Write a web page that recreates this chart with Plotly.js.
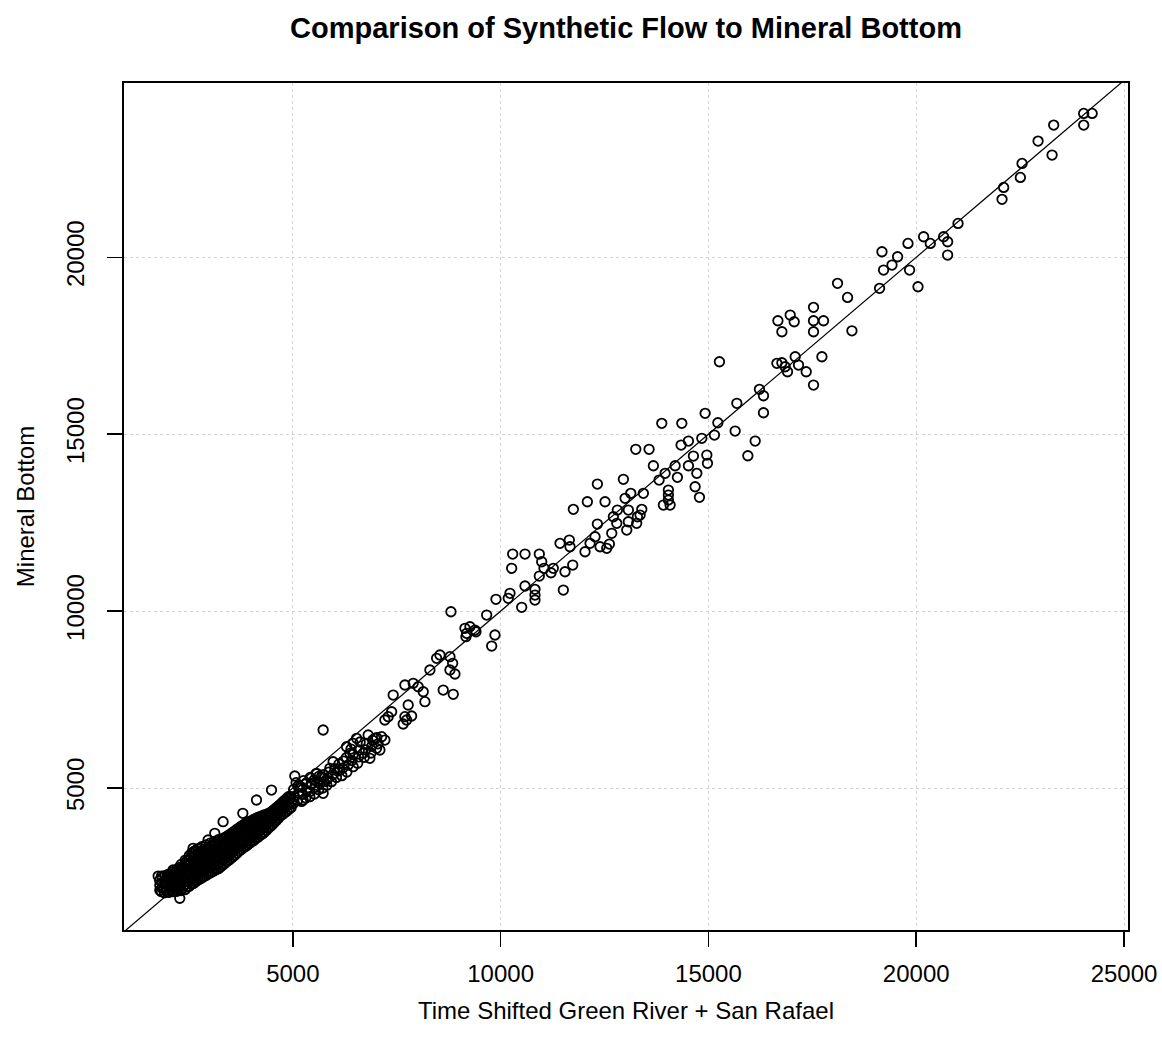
<!DOCTYPE html>
<html><head><meta charset="utf-8">
<script src="https://cdn.plot.ly/plotly-3.0.1.min.js"></script>
<style>html,body{margin:0;padding:0;background:#fff}#chart{width:1162px;height:1047px}</style>
</head><body><div id="chart"></div>
<script>
const chartTitle = 'Comparison of Synthetic Flow to Mineral Bottom';
const xTitle = 'Time Shifted Green River + San Rafael';
const yTitle = 'Mineral Bottom';
const xTickVals = [5000, 10000, 15000, 20000, 25000];
const yTickVals = [5000, 10000, 15000, 20000];
const ablineIntercept = 0;
const ablineSlope = 1;
const xRange = [938, 25096];
const yRange = [987, 24926];

// dense cluster of low flows (x = Green River + San Rafael, y = Mineral Bottom)
const lowFlowPairs = [
[1760,2510],[1840,2510],[1920,2520],[2000,2560],[1840,2070],[2280,1885],[2118,2683],[2600,3296],[2961,3530],[3122,3720],[3322,4048],[3797,4285],[4126,4661],[4487,4943],[4285,3720],
[1800,2110],[1800,2250],[1795,2390],
[1860,2170],[1865,2330],[1860,2460],
[1910,2040],[1905,2200],[1912,2350],
[1960,2120],[1955,2280],[1962,2430],
[2010,2050],[2015,2210],[2008,2360],[2012,2500],
[2060,2130],[2055,2290],[2065,2440],[2060,2570],
[2110,2070],[2105,2220],[2115,2370],[2110,2520],[2108,2635],
[2160,2140],[2165,2300],[2155,2450],[2160,2600],
[2210,2080],[2215,2240],[2205,2390],[2212,2540],[2210,2690],
[2260,2160],[2255,2310],[2265,2460],[2258,2610],[2262,2750],
[2310,2100],[2305,2250],[2315,2400],[2310,2550],[2308,2700],[2312,2840],
[2360,2180],[2365,2330],[2355,2480],[2362,2630],[2358,2780],
[2410,2130],[2405,2280],[2415,2430],[2410,2580],[2408,2730],[2412,2880],[2410,2960],
[2460,2210],[2465,2360],[2455,2510],[2462,2660],[2458,2810],[2460,2950],
[2510,2220],[2505,2370],[2515,2520],[2510,2670],[2508,2820],[2512,2960],[2510,3090],
[2560,2290],[2565,2440],[2555,2590],[2562,2740],[2558,2890],[2560,3040],[2565,3160],
[2610,2300],[2605,2450],[2615,2600],[2610,2750],[2608,2900],[2612,3050],[2610,3200],
[2660,2350],[2665,2500],[2655,2650],[2662,2800],[2658,2950],[2660,3100],[2665,3240],
[2710,2390],[2705,2540],[2715,2690],[2710,2840],[2708,2990],[2712,3140],[2710,3280],
[2760,2430],[2765,2580],[2755,2730],[2762,2880],[2758,3030],[2760,3180],[2765,3300],
[2810,2460],[2805,2610],[2815,2760],[2810,2910],[2808,3060],[2812,3210],[2810,3340],
[2860,2500],[2865,2650],[2855,2800],[2862,2950],[2858,3100],[2860,3250],
[2910,2530],[2905,2680],[2915,2830],[2910,2980],[2908,3130],[2912,3280],[2910,3390],
[2960,2570],[2965,2720],[2955,2870],[2962,3020],[2958,3170],[2960,3320],
[3010,2600],[3005,2750],[3015,2900],[3010,3050],[3008,3200],[3012,3350],[3010,3440],
[3060,2630],[3065,2780],[3055,2930],[3062,3080],[3058,3230],[3060,3380],
[3110,2660],[3105,2810],[3115,2960],[3110,3110],[3108,3260],[3112,3410],[3110,3490],
[3160,2700],[3165,2850],[3155,3000],[3162,3150],[3158,3300],[3160,3450],
[3210,2720],[3205,2870],[3215,3020],[3210,3170],[3208,3320],[3212,3470],[3210,3540],
[3260,2770],[3265,2920],[3255,3070],[3262,3220],[3258,3370],[3260,3520],
[3310,2820],[3305,2970],[3315,3120],[3310,3270],[3308,3420],[3312,3570],
[3360,2870],[3365,3020],[3355,3170],[3362,3320],[3358,3470],[3360,3600],
[3410,2920],[3405,3070],[3415,3220],[3410,3370],[3408,3520],[3412,3630],
[3460,2960],[3465,3110],[3455,3260],[3462,3410],[3458,3560],[3460,3670],
[3510,3010],[3505,3160],[3515,3310],[3510,3460],[3508,3610],[3512,3710],
[3560,3060],[3565,3210],[3555,3360],[3562,3510],[3558,3660],[3560,3750],
[3610,3110],[3605,3260],[3615,3410],[3610,3560],[3608,3710],[3612,3790],
[3660,3160],[3665,3310],[3655,3460],[3662,3610],[3658,3760],[3660,3840],
[3710,3220],[3705,3370],[3715,3520],[3710,3670],[3708,3820],[3712,3880],
[3760,3260],[3765,3410],[3755,3560],[3762,3710],[3758,3860],[3760,3920],
[3810,3310],[3805,3460],[3815,3610],[3810,3760],[3808,3910],[3812,3960],
[3860,3350],[3865,3500],[3855,3650],[3862,3800],[3858,3950],[3860,4000],
[3910,3390],[3905,3540],[3915,3690],[3910,3840],[3908,3990],[3912,4040],
[3960,3440],[3965,3590],[3955,3740],[3962,3890],[3958,4050],
[4010,3480],[4005,3630],[4015,3780],[4010,3930],[4008,4080],
[4060,3520],[4065,3670],[4055,3820],[4062,3970],[4058,4110],
[4110,3570],[4105,3720],[4115,3870],[4110,4020],[4108,4140],
[4160,3610],[4165,3760],[4155,3910],[4162,4060],[4158,4160],
[4210,3660],[4205,3810],[4215,3960],[4210,4110],[4208,4190],
[4260,3700],[4265,3850],[4255,4000],[4262,4150],[4258,4210],
[4310,3750],[4305,3900],[4315,4050],[4310,4200],[4308,4240],
[4360,3800],[4365,3950],[4355,4100],[4362,4250],
[4410,3860],[4405,4010],[4415,4160],[4410,4280],
[4460,3910],[4465,4060],[4455,4210],[4462,4310],
[4510,3970],[4505,4120],[4515,4270],[4510,4350],
[4560,4030],[4565,4180],[4555,4330],[4562,4400],
[4610,4090],[4605,4240],[4615,4390],[4610,4450],
[4660,4150],[4665,4300],[4655,4450],[4662,4500],
[4710,4220],[4705,4370],[4715,4520],[4710,4550],
[4760,4260],[4765,4410],[4755,4560],[4762,4610],
[4810,4310],[4805,4460],[4815,4610],[4810,4660],
[4860,4350],[4865,4500],[4855,4650],[4862,4720],
[4910,4400],[4905,4550],[4915,4700],[4910,4760],
[4960,4450],[4965,4600],[4955,4750]
];

// medium flows, 5000 - 9000
const midFlowPairs = [
[6813,6498],[6975,6405],[7136,6450],[7215,6356],[7016,6122],[7095,6074],[6534,6405],[6452,6263],[6293,6167],[6373,5981],[6693,5981],[6854,5839],[6452,5602],[5970,5743],[5891,5557],[6132,5509],[5048,5339],[5571,5415],[5691,5319],[5811,5226],[5450,5133],[5409,4754],[5730,4850],[5169,5037],[5248,4661],[5730,6639],
[5010,4560],[5040,4760],[5020,4960],[5080,5150],
[5110,4650],[5140,4850],[5120,5050],
[5210,4620],[5240,4820],[5220,5020],[5260,5210],
[5310,4720],[5340,4920],[5320,5120],
[5410,4900],[5440,5100],[5420,5300],
[5520,4830],[5540,5020],[5510,5220],[5560,5400],
[5620,4950],[5650,5130],[5630,5330],
[5720,5000],[5750,5180],[5740,5380],
[5820,5080],[5850,5280],[5870,5450],
[5930,5180],[5960,5380],[6010,5550],
[6050,5300],[6080,5480],[6110,5680],
[6180,5350],[6200,5560],[6220,5760],
[6300,5450],[6330,5650],[6290,5860],
[6420,5780],[6450,5950],[6400,6100],
[6560,5700],[6580,5880],[6600,6080],[6620,6300],
[6720,5870],[6750,6080],[6770,6260],
[6880,5990],[6900,6180],[6920,6350],
[7050,6250],[7020,6420],
[8619,7769],[8860,7648],[7697,7911],[7897,7959],[8017,7863],[8138,7721],[8179,7439],[7415,7628],[7776,7346],[7858,7035],[7738,6922],[7656,6809],[7377,7156],[7215,6922],[7295,7015],[7697,7015],
[8540,8759],[8460,8665],[8781,8711],[8846,8524],[8299,8335],[8781,8335],[8901,8222]
];

// high flows, above 9000
const highFlowPairs = [
[8805,9982],[9664,9889],[9864,9324],[9785,9013],[9142,9513],[9262,9558],[9383,9465],[9183,9372],[9407,9417],[9166,9276],
[11429,11915],[11670,11819],[10290,11613],[10587,11613],[10931,11613],[10989,11395],[10266,11209],[11044,11209],[11268,11209],[11735,11302],[11550,11113],[10931,10991],[11213,11084],[10587,10709],[10827,10615],[10827,10454],[10827,10313],[11509,10595],[10225,10502],[10184,10361],[9888,10333],[10507,10107],
[14921,15589],[13878,15306],[14360,15306],[15227,15323],[15643,15089],[16125,14806],[15949,14391],[15145,14976],[14841,14883],[14519,14806],[14343,14693],[13252,14572],[13572,14572],[14639,14382],[14962,14411],[14977,14176],[14519,14108],[14199,14108],[13676,14108],[14721,13893],[13958,13893],[14254,13780],[13813,13704],[12954,13724],[12328,13591],[14680,13515],[14784,13215],[14037,13421],[14037,13280],[14037,13139],[13917,12998],[14078,12998],[13435,13328],[13132,13328],[12995,13187],[12513,13091],[12087,13091],[11750,12876],[12809,12856],[13074,12856],[13397,12876],[12713,12667],[13291,12667],[13074,12526],[12795,12480],[12328,12461],[12674,12198],[13035,12291],[12272,12102],[11653,12008],[12152,11915],[12393,11819],[12617,11895],[12031,11678],[12554,11774],[13356,12715],[13274,12480],
[18107,19263],[18348,18867],[17529,18585],[16968,18367],[16672,18206],[17064,18178],[17529,18206],[17770,18206],[16768,17895],[17529,17895],[18453,17923],[17731,17189],[17088,17189],[16648,17002],[16768,17019],[16847,16906],[17168,16954],[17353,16765],[16903,16765],[17529,16389],[16228,16267],[16325,16086],[15684,15872],[16325,15606],[15265,17047],
[24030,24067],[24233,24067],[24030,23736],[23308,23736],[22932,23284],[23269,22889],[22547,22654],[22506,22258],[22104,21976],[22065,21637],[21006,20958],[20659,20580],[20756,20439],[20756,20063],[20178,20580],[20339,20393],[19802,20393],[19176,20156],[19552,20015],[19417,19780],[19214,19639],[19840,19639],[19118,19122],[20043,19167]
];

const allPairs = lowFlowPairs.concat(midFlowPairs, highFlowPairs);
const flowX = allPairs.map(p => p[0]);
const mineralY = allPairs.map(p => p[1]);

const pointsTrace = {
  x: flowX, y: mineralY, type: 'scatter', mode: 'markers',
  marker: {symbol: 'circle-open', size: 9.5, color: '#000', line: {width: 1.8, color: '#000'}},
  showlegend: false, hoverinfo: 'x+y'
};
const refLine = {
  x: [xRange[0], xRange[1]],
  y: [ablineIntercept + ablineSlope * xRange[0], ablineIntercept + ablineSlope * xRange[1]],
  type: 'scatter', mode: 'lines', line: {color: '#000', width: 1.2},
  showlegend: false, hoverinfo: 'skip'
};

const fontFam = '"Liberation Sans", Arial, sans-serif';
const axisCommon = {
  ticks: 'outside', ticklen: 15, tickwidth: 1.5, tickcolor: '#000',
  showline: true, linecolor: '#000', linewidth: 2, mirror: true,
  showgrid: true, gridcolor: '#d3d3d3', griddash: 'dot', gridwidth: 1,
  zeroline: false, automargin: false,
  tickfont: {family: fontFam, size: 24, color: '#000'}
};

const layout = {
  width: 1162, height: 1047,
  margin: {l: 124, r: 34, t: 83, b: 117, pad: 0},
  paper_bgcolor: '#fff', plot_bgcolor: '#fff',
  font: {family: fontFam, size: 24, color: '#000'},
  showlegend: false,
  title: {text: chartTitle, font: {family: fontFam, size: 29, weight: 700, color: '#000'},
          x: 0.5, xref: 'paper', xanchor: 'center', y: 1 - 28 / 1047, yref: 'container', yanchor: 'middle'},
  xaxis: Object.assign({}, axisCommon, {
    range: xRange, tickmode: 'array', tickvals: xTickVals, ticktext: xTickVals.map(String),
    ticklabelstandoff: 6,
    title: {text: xTitle, font: {family: fontFam, size: 24, color: '#000'}, standoff: 16}
  }),
  yaxis: Object.assign({}, axisCommon, {
    range: yRange, tickmode: 'array', tickvals: yTickVals, ticktext: yTickVals.map(String),
    tickangle: -90, ticklabelstandoff: 13,
    title: {text: yTitle, font: {family: fontFam, size: 24, color: '#000'}, standoff: 21}
  })
};

Plotly.newPlot('chart', [refLine, pointsTrace], layout, {displayModeBar: false, staticPlot: true});
</script>
</body></html>
